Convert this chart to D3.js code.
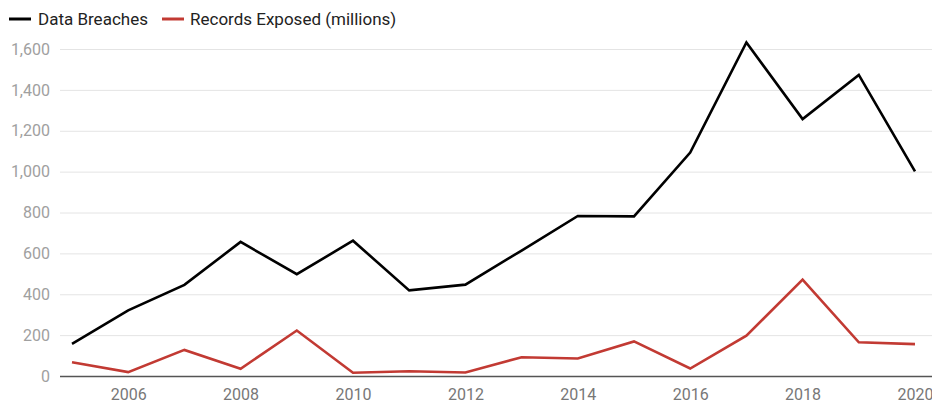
<!DOCTYPE html>
<html><head><meta charset="utf-8">
<script src="https://cdn.jsdelivr.net/npm/d3@7"></script>
<style>body{margin:0;background:#fff}svg{display:block;font-family:Roboto,"Noto Sans",sans-serif}</style>
</head><body><svg id="c" width="932" height="405"></svg>
<script>
const years = [2005,2006,2007,2008,2009,2010,2011,2012,2013,2014,2015,2016,2017,2018,2019,2020];
const breaches = [157,321,446,656,498,662,419,447,614,783,781,1093,1632,1257,1473,1001];
const records = [66.9,19.1,127.7,35.7,222.5,16.2,22.9,17.3,92.0,85.6,169.1,36.6,197.6,471.2,164.7,155.8];
const yTicks = [0,200,400,600,800,1000,1200,1400,1600];
const xTicks = [2006,2008,2010,2012,2014,2016,2018,2020];
const seriesNames = ["Data Breaches","Records Exposed (millions)"];
const colors = ["#000000","#c23a33"];

const svg = d3.select("#c");
const x = d3.scaleLinear().domain([2005,2020]).range([72,915]);
const y = d3.scaleLinear().domain([0,1600]).range([376,49]);

// grid
const yAxis = d3.axisLeft(y).tickValues(yTicks).tickSize(-872).tickFormat(d3.format(","));
const gy = svg.append("g").attr("transform","translate(60,0)").call(yAxis);
gy.select(".domain").remove();
gy.selectAll(".tick line").attr("stroke","#e4e4e4").attr("stroke-width",1);
gy.selectAll(".tick text").attr("x",-10).attr("fill","#a0a0a0").style("font-size","16px").style("font-family","Roboto");
gy.selectAll(".tick").filter(d=>d===0).select("line").attr("stroke","#555").attr("stroke-width",1.5);

const xAxis = d3.axisBottom(x).tickValues(xTicks).tickSize(0).tickFormat(d3.format("d"));
const gx = svg.append("g").attr("transform","translate(0,376)").call(xAxis);
gx.select(".domain").remove();
gx.selectAll(".tick text").attr("y",13).attr("dy","0.71em").attr("fill","#777").style("font-size","16px").style("font-family","Roboto");

const line = d3.line().x((d,i)=>x(years[i])).y(d=>y(d));
[breaches, records].forEach((s,k)=>{
  svg.append("path").datum(s).attr("d",line).attr("fill","none")
    .attr("stroke",colors[k]).attr("stroke-width",2.6).attr("stroke-linejoin","miter");
});

// legend
const leg = [{x:9,tx:38},{x:162,tx:190}];
seriesNames.forEach((n,k)=>{
  svg.append("line").attr("x1",leg[k].x).attr("x2",leg[k].x+22).attr("y1",19).attr("y2",19)
    .attr("stroke",colors[k]).attr("stroke-width",3);
  svg.append("text").attr("x",leg[k].tx).attr("y",19).attr("dy","0.36em").attr("fill","#222")
    .style("font-size","17px").text(n);
});
</script></body></html>
